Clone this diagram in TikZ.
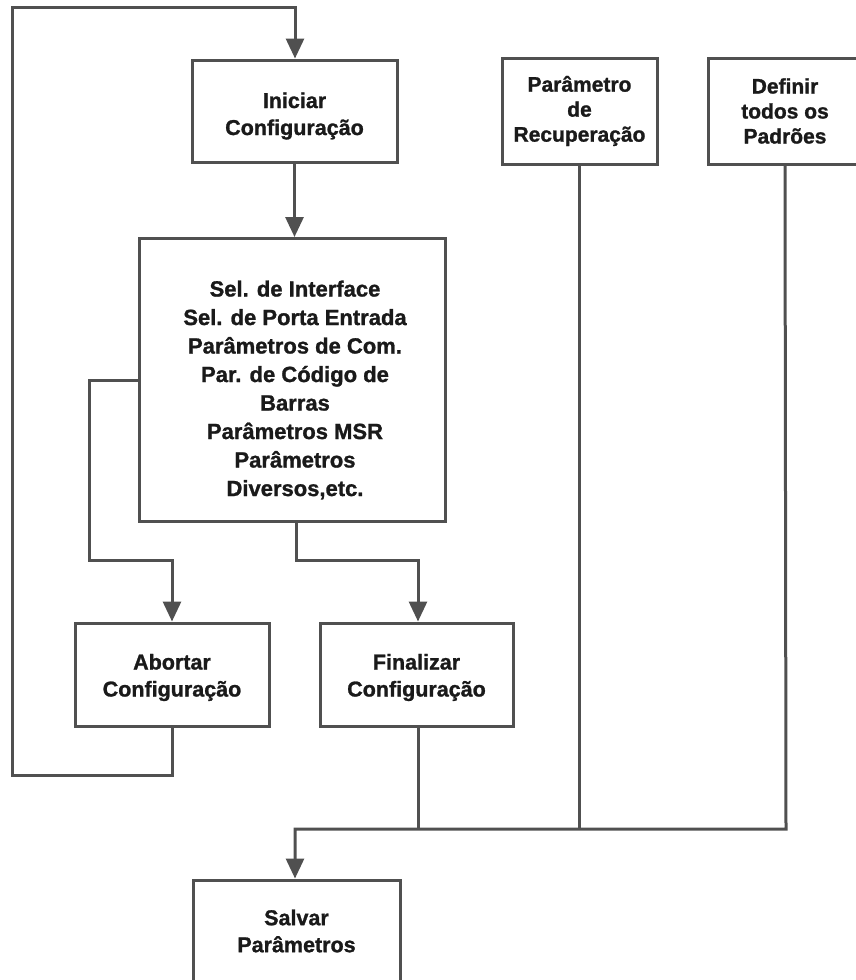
\documentclass[tikz,border=0pt]{standalone}
\usepackage{fontspec}
\setmainfont{Liberation Sans}[BoldFeatures={FakeBold=1.2}]
\usetikzlibrary{arrows.meta}
\definecolor{ln}{HTML}{505050}
\definecolor{tx}{HTML}{1A1A1A}
\tikzset{
  box/.style={draw=ln,line width=3pt,fill=white,inner sep=0pt},
  txt/.style={align=center,inner sep=0pt,text=tx,font=\fontsize{21.5}{27}\selectfont\bfseries},
  conn/.style={draw=ln,line width=3pt},
  arr/.style={conn,-{Triangle[length=20pt,width=18pt]}},
}
\begin{document}
\begin{tikzpicture}[x=1pt,y=-1pt]
\useasboundingbox (0,0) rectangle (855,980);
\node[box,minimum width=205pt,minimum height=102pt] (ini) at (294.5,111) {};
\node[txt] (init) at ([yshift=-5pt]ini.center) {Iniciar\\Configuração};
\node[box,minimum width=306pt,minimum height=283pt] (mid) at (292,380) {};
\node[txt,font=\fontsize{22}{28.5}\selectfont\bfseries] (midt) at ([xshift=3pt,yshift=-10pt]mid.center)
  {Sel. de Interface\\Sel. de Porta Entrada\\Parâmetros de Com.\\Par. de Código de\\Barras\\Parâmetros MSR\\Parâmetros\\Diversos,etc.};
\node[box,minimum width=155pt,minimum height=106pt] (rec) at (579.5,111) {};
\node[txt,font=\fontsize{21}{25}\selectfont\bfseries] (rect) at (rec.center) {Parâmetro\\de\\Recuperação};
\node[box,minimum width=154pt,minimum height=106pt] (def) at (785,111) {};
\node[txt,font=\fontsize{21}{25}\selectfont\bfseries] (deft) at (def.center) {Definir\\todos os\\Padrões};
\node[box,minimum width=194pt,minimum height=103pt] (abo) at (172,674.5) {};
\node[txt] (abot) at ([yshift=-3pt]abo.center) {Abortar\\Configuração};
\node[box,minimum width=193pt,minimum height=103pt] (fin) at (416.5,674.5) {};
\node[txt] (fint) at ([yshift=-3pt]fin.center) {Finalizar\\Configuração};
\node[box,minimum width=207pt,minimum height=106pt] (sal) at (296.5,933) {};
\node[txt] (salt) at ([yshift=2pt]sal.center) {Salvar\\Parâmetros};
% loop back
\coordinate (lb) at (12,775);
\coordinate (lt) at (12,7);
\coordinate (tp) at (295,7);
\draw[arr] (abo.south) -- (abo.south |- lb) -- (lb) -- (lt) -- (tp) -- (tp |- ini.north);
\draw[arr] (ini.south) -- (ini.south |- mid.north);
% left branch
\coordinate (la) at (89,380);
\coordinate (lc) at (89,560);
\draw[arr] (mid.west |- la) -- (la) -- (lc) -- (lc -| abo.north) -- (abo.north);
% right branch
\coordinate (ra) at (296,560);
\draw[arr] (ra |- mid.south) -- (ra) -- (ra -| 418,0) -- (418,0 |- fin.north);
% merge
\coordinate (mg) at (786,829);
\coordinate (ml) at (295,829);
\draw[conn] (418,0 |- fin.south) -- (418,829);
\draw[conn] (rec.south) -- (rec.south |- mg);
\draw[arr] (def.south) -- (mg) -- (ml) -- (ml |- sal.north);
\end{tikzpicture}
\end{document}
